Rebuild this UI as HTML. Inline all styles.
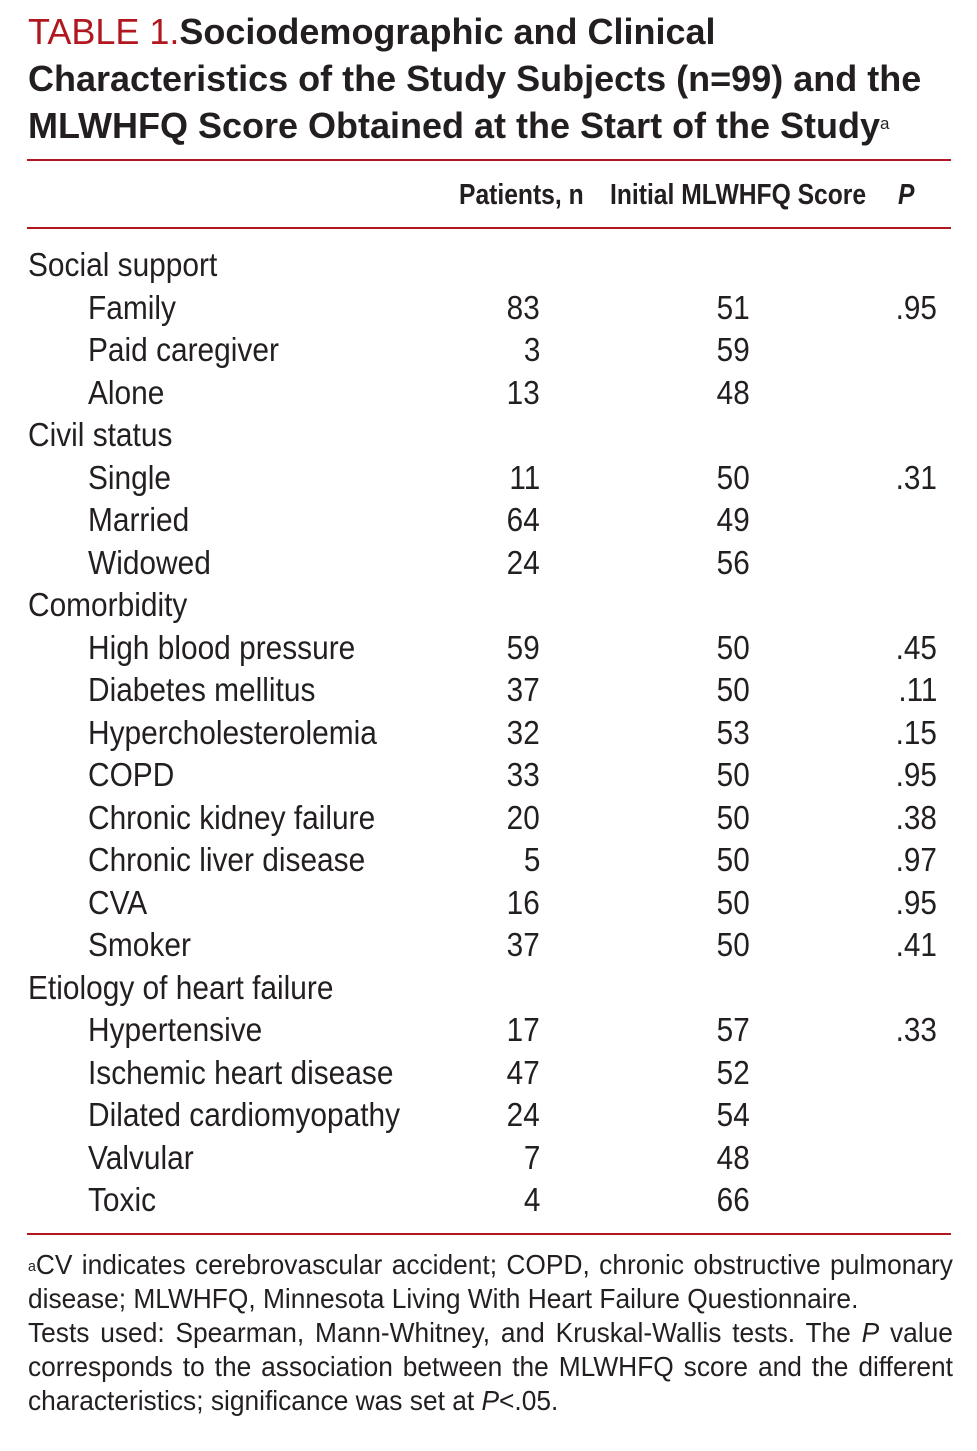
<!DOCTYPE html>
<html><head><meta charset="utf-8"><style>
body{margin:0;width:977px;height:1451px;background:#fff;position:relative;font-family:"Liberation Sans",sans-serif;color:#231f20;overflow:hidden}
.t{position:absolute;left:28px;top:8px;width:960px;font-weight:bold;font-size:36px;line-height:47px;white-space:nowrap}
.t .r{color:#b0171f;font-weight:normal}
.t sup{font-size:17px;font-weight:normal;vertical-align:top;position:relative;top:-2px}
.hr{position:absolute;left:27px;width:924px;height:2px;background:#b0171f}
.h{position:absolute;top:178px;font-weight:bold;font-size:29px;line-height:34px;white-space:nowrap;transform:scaleX(0.85);transform-origin:left center}
.row{position:absolute;left:0;width:977px;height:42px;font-size:33px;line-height:42px}
.row span{position:absolute;white-space:nowrap}
.l,.i{transform:scaleX(0.905);transform-origin:left center}
.l{left:28px}.i{left:88px}
.n,.s,.p{transform:scaleX(0.9);transform-origin:right center}
.n{right:437px}.s{right:227px}.p{right:40px}
.f{position:absolute;left:28px;top:1248px;font-size:28px;line-height:34px}
.f div{width:984px;transform:scaleX(0.94);transform-origin:left center;white-space:nowrap}
.f .j{text-align:justify;text-align-last:justify;white-space:normal;height:34px;overflow:hidden}
.f sup{font-size:15px;vertical-align:top;position:relative;top:2px}
</style></head><body>
<div class="t">
<div><span class="r">TABLE 1.</span>Sociodemographic and Clinical</div>
<div>Characteristics of the Study Subjects (n=99) and the</div>
<div>MLWHFQ Score Obtained at the Start of the Study<sup>a</sup></div>
</div>
<div class="hr" style="top:159px"></div>
<div class="h" style="left:459px">Patients, n</div>
<div class="h" style="left:610px">Initial MLWHFQ Score</div>
<div class="h" style="left:898px;font-style:italic">P</div>
<div class="hr" style="top:227px"></div>
<div id="rows"></div>
<div class="hr" style="top:1233px"></div>
<div class="f">
<div class="j"><sup>a</sup>CV indicates cerebrovascular accident; COPD, chronic obstructive pulmonary</div>
<div>disease; MLWHFQ, Minnesota Living With Heart Failure Questionnaire.</div>
<div class="j">Tests used: Spearman, Mann-Whitney, and Kruskal-Wallis tests. The <i>P</i> value</div>
<div class="j">corresponds to the association between the MLWHFQ score and the different</div>
<div>characteristics; significance was set at <i>P</i>&lt;.05.</div>
</div>
<script>
const labels=["Social support","Family","Paid caregiver","Alone","Civil status","Single","Married","Widowed","Comorbidity","High blood pressure","Diabetes mellitus","Hypercholesterolemia","COPD","Chronic kidney failure","Chronic liver disease","CVA","Smoker","Etiology of heart failure","Hypertensive","Ischemic heart disease","Dilated cardiomyopathy","Valvular","Toxic"];
const patients=["","83","3","13","","11","64","24","","59","37","32","33","20","5","16","37","","17","47","24","7","4"];
const scores=["","51","59","48","","50","49","56","","50","50","53","50","50","50","50","50","","57","52","54","48","66"];
const pvals=["",".95","","","",".31","","","",".45",".11",".15",".95",".38",".97",".95",".41","",".33","","","",""];
const c=document.getElementById('rows');
labels.forEach((lb,k)=>{
  const r=document.createElement('div');
  r.className='row';
  r.style.top=(244+k*42.5)+'px';
  
  
  const grp=patients[k]===''&&scores[k]==='';
  r.innerHTML='<span class="'+(grp?'l':'i')+'">'+lb+'</span><span class="n">'+patients[k]+'</span><span class="s">'+scores[k]+'</span><span class="p">'+pvals[k]+'</span>';
  c.appendChild(r);
});
</script>
</body></html>
